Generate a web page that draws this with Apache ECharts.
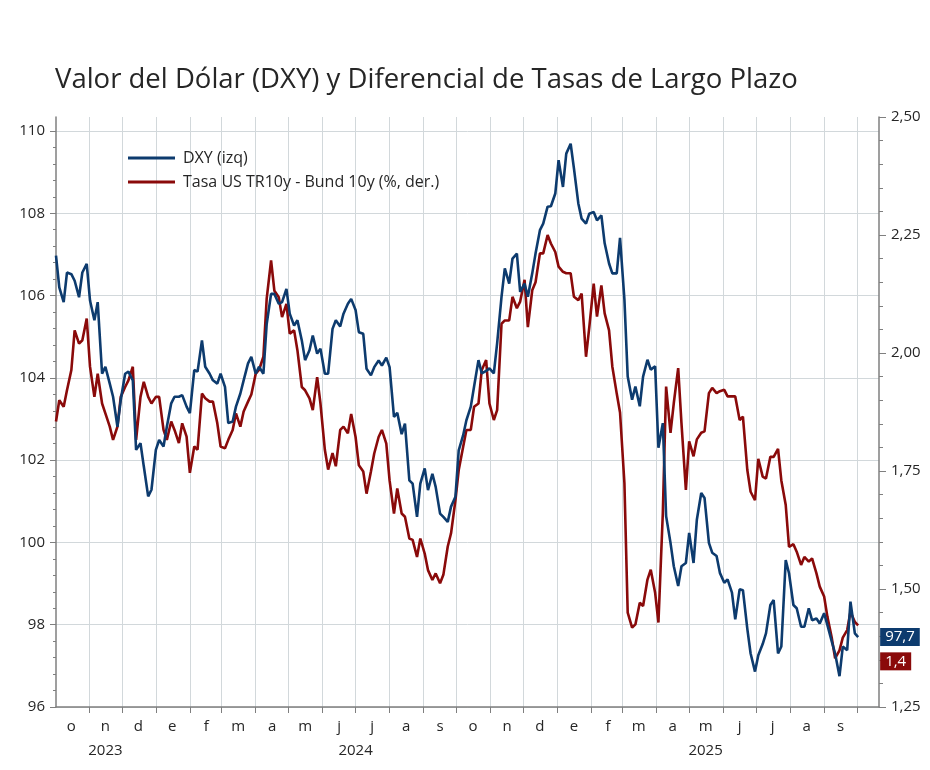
<!DOCTYPE html>
<html>
<head>
<meta charset="utf-8">
<title>DXY y diferencial de tasas</title>
<script src="https://cdn.jsdelivr.net/npm/echarts@6/dist/echarts.min.js"></script>
<style>
  html, body { margin: 0; padding: 0; background: #fff; }
  #chart { width: 930px; height: 770px; }
</style>
</head>
<body>
<div id="chart"></div>
<script type="text/javascript">
// iniciales de los meses y etiquetas de año (fecha central de cada grupo)
var monthLetters = ['e', 'f', 'm', 'a', 'm', 'j', 'j', 'a', 's', 'o', 'n', 'd'];
var yearLabels = { '2023-11-16': '2023', '2024-07-01': '2024', '2025-05-16': '2025' };

// rango del eje x (días corridos)
var axisStart = '2023-10-02';
var axisEnd = '2025-10-21';

// observaciones: lunes y jueves de cada semana desde el primer lunes
var firstMonday = '2023-10-02';

// DXY (eje izq.)
var dxy = [
  106.97, 106.2, 105.84, 106.56, 106.52, 106.36, 105.96, 106.56, 106.77, 105.88,
  105.4, 105.84, 104.1, 104.27, 103.86, 103.54, 102.81, 103.46, 104.1, 104.15,
  103.94, 102.25, 102.41, 101.85, 101.12, 101.28, 102.25, 102.49, 102.33, 102.81,
  103.38, 103.54, 103.54, 103.58, 103.3, 103.14, 104.19, 104.15, 104.91, 104.27,
  104.1, 103.94, 103.86, 104.1, 103.78, 102.9, 102.94, 103.3, 103.62, 103.94,
  104.35, 104.51, 104.1, 104.27, 104.1, 105.31, 106.04, 106.04, 105.8, 105.84,
  106.16, 105.56, 105.27, 105.4, 104.91, 104.43, 104.67, 105.03, 104.59, 104.71,
  104.1, 104.1, 105.19, 105.4, 105.25, 105.56, 105.8, 105.92, 105.65, 105.11,
  105.07, 104.22, 104.06, 104.26, 104.42, 104.3, 104.49, 104.26, 103.05, 103.15,
  102.63, 102.89, 101.51, 101.43, 100.62, 101.43, 101.8, 101.27, 101.67, 101.35,
  100.7, 100.62, 100.5, 100.87, 101.11, 102.24, 102.6, 102.97, 103.3, 103.79,
  104.43, 104.11, 104.17, 104.23, 104.11, 104.84, 105.97, 106.66, 106.29, 106.9,
  107.02, 106.09, 106.29, 105.97, 106.54, 107.02, 107.59, 107.75, 108.16, 108.17,
  108.48, 109.29, 108.64, 109.45, 109.69, 109.09, 108.24, 107.87, 107.75, 107.99,
  108.03, 107.83, 107.95, 107.27, 106.78, 106.54, 106.54, 107.4, 105.9, 104.03,
  103.47, 103.79, 103.31, 104.03, 104.44, 104.2, 104.28, 102.3, 102.9, 100.64,
  99.99, 99.42, 98.94, 99.42, 99.5, 100.23, 99.5, 100.55, 101.2, 101.08,
  99.99, 99.75, 99.67, 99.26, 99.02, 99.1, 98.78, 98.13, 98.86, 98.84,
  97.9, 97.3, 96.86, 97.26, 97.53, 97.79, 98.48, 98.6, 97.3, 97.47,
  99.57, 99.25, 98.48, 98.4, 97.95, 97.95, 98.4, 98.11, 98.15, 98.03,
  98.28, 97.99, 97.59, 97.3, 96.75, 97.47, 97.38, 98.56, 97.79, 97.7
];

// Tasa US 10y - Bund 10y, % (eje der.)
var spread = [
  1.855, 1.900, 1.886, 1.921, 1.964, 2.048, 2.020, 2.027, 2.073, 1.971,
  1.907, 1.956, 1.893, 1.872, 1.844, 1.816, 1.844, 1.907, 1.928, 1.942,
  1.971, 1.816, 1.907, 1.939, 1.907, 1.893, 1.907, 1.907, 1.837, 1.816,
  1.855, 1.837, 1.809, 1.851, 1.823, 1.746, 1.802, 1.795, 1.914, 1.904,
  1.897, 1.897, 1.851, 1.802, 1.798, 1.816, 1.837, 1.872, 1.844, 1.876,
  1.897, 1.912, 1.956, 1.964, 1.992, 2.115, 2.196, 2.132, 2.118, 2.076,
  2.104, 2.041, 2.048, 2.006, 1.928, 1.921, 1.904, 1.879, 1.949, 1.893,
  1.795, 1.753, 1.788, 1.760, 1.837, 1.844, 1.830, 1.871, 1.822, 1.762,
  1.749, 1.702, 1.749, 1.787, 1.822, 1.837, 1.808, 1.730, 1.660, 1.713,
  1.660, 1.653, 1.607, 1.604, 1.568, 1.607, 1.575, 1.540, 1.519, 1.533,
  1.512, 1.530, 1.590, 1.618, 1.688, 1.752, 1.801, 1.837, 1.837, 1.886,
  1.893, 1.964, 1.985, 1.893, 1.858, 1.879, 2.062, 2.069, 2.069, 2.119,
  2.095, 2.109, 2.155, 2.055, 2.133, 2.150, 2.211, 2.211, 2.250, 2.232,
  2.214, 2.183, 2.172, 2.169, 2.169, 2.119, 2.112, 2.126, 1.992, 2.055,
  2.147, 2.077, 2.143, 2.084, 2.048, 1.971, 1.914, 1.874, 1.724, 1.450,
  1.418, 1.425, 1.471, 1.464, 1.520, 1.541, 1.492, 1.429, 1.661, 1.929,
  1.831, 1.894, 1.968, 1.851, 1.710, 1.813, 1.781, 1.817, 1.831, 1.834,
  1.915, 1.926, 1.915, 1.919, 1.922, 1.908, 1.908, 1.908, 1.858, 1.865,
  1.752, 1.706, 1.688, 1.776, 1.738, 1.734, 1.780, 1.780, 1.797, 1.730,
  1.678, 1.589, 1.595, 1.579, 1.551, 1.568, 1.558, 1.565, 1.533, 1.505,
  1.484, 1.441, 1.396, 1.353, 1.370, 1.397, 1.413, 1.452, 1.430, 1.423
];

var leftTicks = [96, 98, 100, 102, 104, 106, 108, 110];

var blue = '#0d3b6e';
var red = '#8a0a0a';
var gridColor = '#d2d8db';
var axisColor = '#7f7f7f';
var textColor = '#262626';
var font = 'Open Sans';

function addDays(s, n) {
  var d = new Date(s + 'T00:00:00Z');
  d.setUTCDate(d.getUTCDate() + n);
  return d.toISOString().slice(0, 10);
}
function fmt(v, dec) {
  return v.toFixed(dec).replace('.', ',');
}

var days = [];
for (var s = axisStart; s <= axisEnd; s = addDays(s, 1)) days.push(s);

var obsDates = [];
for (var w = 0; obsDates.length < dxy.length; w++) {
  obsDates.push(addDays(firstMonday, 7 * w));
  obsDates.push(addDays(firstMonday, 7 * w + 3));
}

var chart = echarts.init(document.getElementById('chart'), null, { renderer: 'canvas' });
chart.setOption({
  animation: false,
  backgroundColor: '#fff',
  title: {
    text: 'Valor del Dólar (DXY) y Diferencial de Tasas de Largo Plazo',
    left: 55,
    top: 66,
    padding: 0,
    textStyle: { fontFamily: font, fontSize: 27.5, fontWeight: 'normal', color: textColor }
  },
  legend: {
    orient: 'vertical',
    left: 123,
    top: 144,
    itemWidth: 47,
    itemHeight: 3,
    itemGap: 6,
    icon: 'rect',
    data: ['DXY (izq)', 'Tasa US TR10y - Bund 10y (%, der.)'],
    textStyle: { fontFamily: font, fontSize: 16, color: textColor, lineHeight: 18, padding: [0, 0, 0, 3] }
  },
  grid: { left: 56, right: 51, top: 117, bottom: 63 },
  xAxis: [
    {
      type: 'category',
      data: days,
      boundaryGap: false,
      axisLine: { show: true, lineStyle: { color: axisColor, width: 1.5 } },
      axisTick: {
        show: true, length: 6, lineStyle: { color: axisColor },
        interval: function (i, v) { return v.slice(8) === '01'; }
      },
      splitLine: {
        show: true, lineStyle: { color: gridColor, width: 1 },
        interval: function (i, v) { return v.slice(8) === '01'; }
      },
      axisLabel: {
        margin: 12,
        fontFamily: font, fontSize: 15, color: textColor,
        interval: function (i, v) { return v.slice(8) === '16' && v < '2025-10'; },
        formatter: function (v) { return monthLetters[parseInt(v.slice(5, 7), 10) - 1]; }
      }
    },
    {
      type: 'category',
      data: days,
      boundaryGap: false,
      position: 'bottom',
      axisLine: { show: false },
      axisTick: { show: false },
      splitLine: { show: false },
      axisLabel: {
        margin: 36,
        fontFamily: font, fontSize: 15, color: textColor,
        interval: function (i, v) { return yearLabels[v] !== undefined; },
        formatter: function (v) { return yearLabels[v]; }
      }
    }
  ],
  yAxis: [
    {
      type: 'value',
      position: 'left',
      min: 96,
      max: 110.34,
      interval: 2,
      axisLine: { show: true, lineStyle: { color: axisColor, width: 1.5 } },
      axisTick: { show: true, length: 6, lineStyle: { color: axisColor }, customValues: leftTicks },
      minorTick: { show: true, splitNumber: 5, length: 3, lineStyle: { color: axisColor } },
      splitLine: { show: true, lineStyle: { color: gridColor, width: 1 } },
      axisLabel: {
        margin: 11, fontFamily: font, fontSize: 15, color: textColor,
        customValues: leftTicks,
        formatter: function (v) { return String(v); }
      }
    },
    {
      type: 'value',
      position: 'right',
      min: 1.25,
      max: 2.5,
      interval: 0.25,
      axisLine: { show: true, lineStyle: { color: axisColor, width: 1.5 } },
      axisTick: { show: true, length: 7, lineStyle: { color: axisColor } },
      minorTick: { show: true, splitNumber: 5, length: 4, lineStyle: { color: axisColor } },
      splitLine: { show: false },
      axisLabel: {
        margin: 12, fontFamily: font, fontSize: 15, color: textColor,
        formatter: function (v) { return fmt(v, 2); }
      }
    }
  ],
  series: [
    {
      name: 'Tasa US TR10y - Bund 10y (%, der.)',
      type: 'line',
      yAxisIndex: 1,
      symbol: 'none',
      data: obsDates.map(function (d, i) { return [d, spread[i]]; }),
      lineStyle: { color: red, width: 2.6 },
      itemStyle: { color: red },
      endLabel: {
        show: true,
        distance: 22,
        offset: [0, 36],
        formatter: function (p) { return fmt(p.value[1], 1); },
        color: '#fff',
        backgroundColor: red,
        padding: [2, 5, 1, 5],
        fontFamily: font,
        fontSize: 15
      }
    },
    {
      name: 'DXY (izq)',
      type: 'line',
      yAxisIndex: 0,
      symbol: 'none',
      data: obsDates.map(function (d, i) { return [d, dxy[i]]; }),
      lineStyle: { color: blue, width: 2.6 },
      itemStyle: { color: blue },
      endLabel: {
        show: true,
        distance: 22,
        formatter: function (p) { return fmt(p.value[1], 1); },
        color: '#fff',
        backgroundColor: blue,
        padding: [2, 5, 1, 5],
        fontFamily: font,
        fontSize: 15
      }
    }
  ]
});
</script>
</body>
</html>
